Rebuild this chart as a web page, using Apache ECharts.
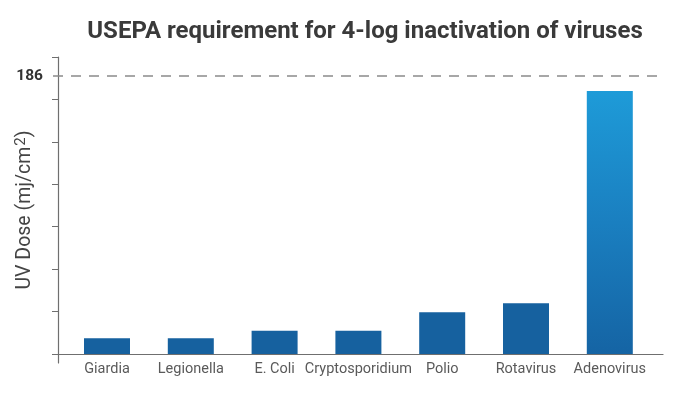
<!DOCTYPE html>
<html>
<head>
<meta charset="utf-8">
<style>html,body{margin:0;padding:0;background:#fff}#c{width:683px;height:396px}</style>
<script src="https://cdn.jsdelivr.net/npm/echarts@6/dist/echarts.min.js"></script>
</head>
<body>
<div id="c"></div>
<script>
const categories = ['Giardia', 'Legionella', 'E. Coli', 'Cryptosporidium', 'Polio', 'Rotavirus', 'Adenovirus'];
const uvDose = [10.5, 10.5, 15.5, 15.5, 28, 34, 176];
const requirement = 186;
const yTicks = [0, 28.4, 56.8, 85.2, 113.6, 142, 170.4, 198.8];
const titleText = 'USEPA requirement for 4-log inactivation of viruses';
const highlightIndex = 6;

const chart = echarts.init(document.getElementById('c'), null, {renderer: 'canvas'});
const baseColor = '#16619f';
const gradient = new echarts.graphic.LinearGradient(0, 0, 0, 1, [
  {offset: 0, color: '#1e9bd8'},
  {offset: 0.5, color: '#1a7fc0'},
  {offset: 1, color: '#1564a4'}
]);

chart.setOption({
  animation: false,
  title: {
    text: titleText,
    left: 360, top: 15, textAlign: 'center',
    textStyle: {fontFamily: 'Roboto', fontWeight: 'bold', fontSize: 24, color: '#3a3a3a'}
  },
  grid: [
    {left: 65.1, right: 31.3, top: 57, bottom: 42},
    {left: 53, right: 20, top: 57, bottom: 33}
  ],
  xAxis: [
    {
      type: 'category', gridIndex: 0, data: categories,
      axisLine: {show: false}, axisTick: {show: false},
      axisLabel: {margin: 8, fontFamily: 'Roboto', fontSize: 14.5, color: '#5a5a5a', interval: 0}
    },
    {
      type: 'value', gridIndex: 1, min: -5, max: 605,
      axisLine: {show: true, lineStyle: {color: '#6f6f6f', width: 1.2}},
      axisTick: {show: false}, axisLabel: {show: false}, splitLine: {show: false}
    }
  ],
  yAxis: [
    {
      type: 'value', gridIndex: 0, min: 0, max: 198.8,
      axisLine: {show: false}, axisTick: {show: false}, axisLabel: {show: false}, splitLine: {show: false}
    },
    {
      type: 'value', gridIndex: 1, min: -6, max: 198.8,
      axisLine: {show: true, lineStyle: {color: '#6f6f6f', width: 1.2}},
      axisTick: {show: true, length: 6, customValues: yTicks, lineStyle: {color: '#6f6f6f'}},
      axisLabel: {show: false}, splitLine: {show: false},
      name: '{a|UV Dose (mj/cm}{s|2}{a|)}',
      nameLocation: 'middle', nameGap: 17,
      nameTextStyle: {
        rich: {
          a: {fontFamily: 'Roboto', fontSize: 19.5, color: '#444'},
          s: {fontFamily: 'Roboto', fontSize: 15, color: '#444', verticalAlign: 'top', padding: [0, 0, 7, 1]}
        }
      }
    }
  ],
  series: [
    {
      type: 'bar', xAxisIndex: 0, yAxisIndex: 0, data: uvDose, barWidth: 46,
      itemStyle: {color: p => p.dataIndex === highlightIndex ? gradient : baseColor},
      silent: true
    },
    {
      type: 'line', xAxisIndex: 1, yAxisIndex: 1, data: [], silent: true,
      markLine: {
        silent: true, symbol: 'none',
        lineStyle: {type: [10, 8], color: '#8a8a8a', width: 1.5},
        label: {position: 'start', distance: 10, formatter: String(requirement),
          fontFamily: 'Roboto', fontWeight: 'bold', fontSize: 15.5, color: '#333'},
        data: [{yAxis: requirement}]
      }
    }
  ]
});
</script>
</body>
</html>
